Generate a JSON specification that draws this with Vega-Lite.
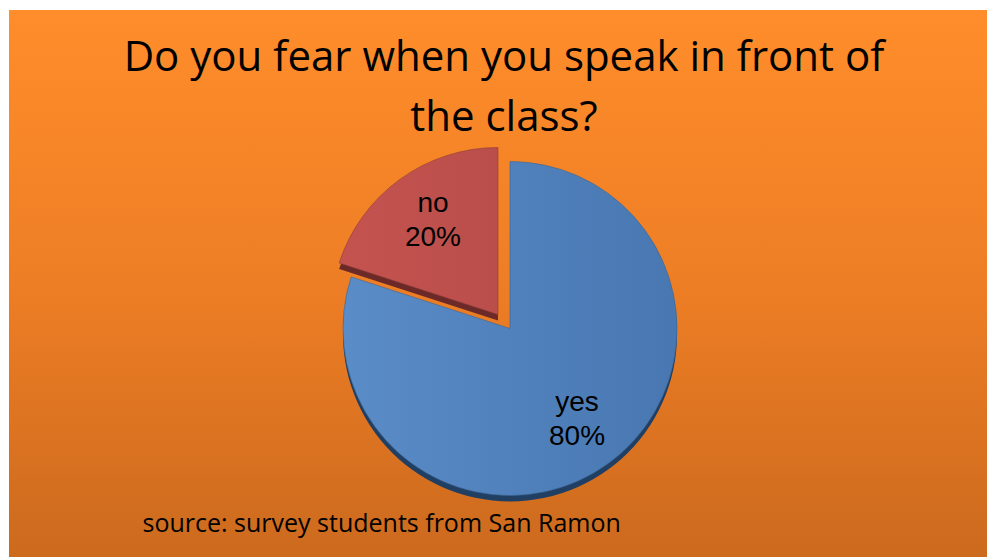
{
  "$schema": "https://vega.github.io/schema/vega-lite/v6.json",
  "width": 987,
  "height": 557,
  "autosize": {"type": "fit", "contains": "padding"},
  "padding": {"left": 9, "top": 10, "right": 0, "bottom": 0},
  "background": "white",
  "config": {"view": {"stroke": null}},
  "title": {
    "text": ["Do you fear when you speak in front of", "the class?"],
    "font": "Open Sans",
    "fontSize": 42,
    "fontWeight": "normal",
    "color": "black",
    "lineHeight": 60,
    "anchor": "middle",
    "baseline": "alphabetic",
    "offset": -163,
    "dx": 6
  },
  "data": {
    "values": [
      {"category": "yes", "value": 80},
      {"category": "no", "value": 20}
    ]
  },
  "layer": [
    {
      "data": {"values": [{"bg": 1}]},
      "mark": {
        "type": "rect",
        "fill": {
          "gradient": "linear",
          "x1": 0, "y1": 0, "x2": 0, "y2": 1,
          "stops": [
            {"offset": 0, "color": "#FF8D2B"},
            {"offset": 0.5, "color": "#EE7E25"},
            {"offset": 1, "color": "#CC6A1E"}
          ]
        }
      },
      "encoding": {
        "x": {
          "datum": 0,
          "type": "quantitative",
          "scale": {"domain": [0, 1], "nice": false, "zero": false},
          "axis": {
            "domain": false,
            "ticks": false,
            "labels": false,
            "grid": false,
            "zindex": 2,
            "title": "source: survey students from San Ramon",
            "titleFont": "Open Sans",
            "titleFontSize": 25,
            "titleFontWeight": "normal",
            "titleColor": "black",
            "titleAlign": "left",
            "titleBaseline": "alphabetic",
            "titleX": 133,
            "titleY": -26
          }
        },
        "x2": {"datum": 1},
        "y": {
          "datum": 0,
          "type": "quantitative",
          "scale": {"domain": [0, 1], "nice": false, "zero": false},
          "axis": null
        },
        "y2": {"datum": 1}
      }
    },
    {
      "mark": {
        "type": "arc",
        "outerRadius": 167,
        "xOffset": {"expr": "datum.category == 'no' ? 0 : 12"},
        "yOffset": {"expr": "datum.category == 'no' ? 37 : 51"},
        "fill": {"expr": "datum.category == 'no' ? '#6B2A28' : '#213F63'"}
      },
      "encoding": {
        "theta": {"field": "value", "type": "quantitative", "stack": true},
        "order": {"field": "category", "sort": "descending"}
      }
    },
    {
      "mark": {
        "type": "arc",
        "outerRadius": 167,
        "xOffset": {"expr": "datum.category == 'no' ? 0 : 12"},
        "yOffset": {"expr": "datum.category == 'no' ? 31 : 45"},
        "fill": {"expr": "datum.category == 'no' ? {gradient: 'linear', x1: 0, y1: 0, x2: 1, y2: 0, stops: [{offset: 0, color: '#C4534F'}, {offset: 1, color: '#BA4E4B'}]} : {gradient: 'linear', x1: 0, y1: 0, x2: 1, y2: 0, stops: [{offset: 0, color: '#5A8CC7'}, {offset: 1, color: '#4877B1'}]}"},
        "stroke": {"expr": "datum.category == 'no' ? '#8E3A37' : '#3B6392'"},
        "strokeWidth": 0.6
      },
      "encoding": {
        "theta": {"field": "value", "type": "quantitative", "stack": true},
        "order": {"field": "category", "sort": "descending"}
      }
    },
    {
      "mark": {
        "type": "text",
        "radius": 114,
        "font": "Liberation Sans",
        "fontSize": 28,
        "lineHeight": 34,
        "color": "black",
        "align": "center",
        "baseline": "middle",
        "dy": -18,
        "xOffset": {"expr": "datum.category == 'no' ? 2 : 12"},
        "yOffset": {"expr": "datum.category == 'no' ? 31 : 45"},
        "text": {"expr": "[datum.category, datum.value + '%']"}
      },
      "encoding": {
        "theta": {"field": "value", "type": "quantitative", "stack": true},
        "order": {"field": "category", "sort": "descending"}
      }
    }
  ]
}
